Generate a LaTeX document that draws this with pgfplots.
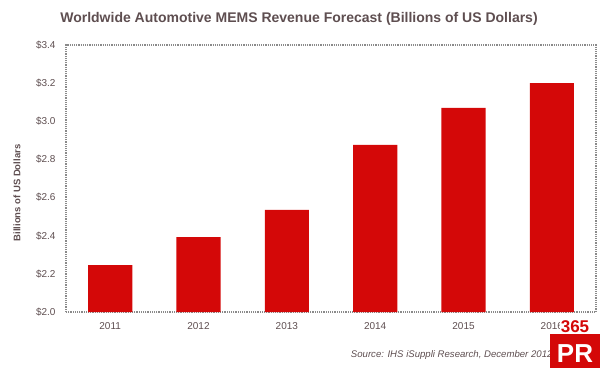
\documentclass[border=0pt]{standalone}
\usepackage{pgfplots}
\pgfplotsset{compat=1.18}
\usepackage{fontspec}
\setmainfont{Liberation Sans}
\definecolor{barred}{HTML}{D40808}
\definecolor{txt}{HTML}{5E4E50}
\definecolor{frame}{HTML}{8A8A8A}
\begin{document}
\begin{tikzpicture}[x=1pt,y=1pt]
\useasboundingbox (0,0) rectangle (600,368);
\begin{axis}[
  at={(66pt,56pt)}, anchor=south west,
  scale only axis, width=530pt, height=267pt,
  xmin=-0.5, xmax=5.5, ymin=2.0, ymax=3.4,
  ytick={2.0,2.2,2.4,2.6,2.8,3.0,3.2,3.4},
  yticklabel={\$\pgfmathprintnumber[fixed,fixed zerofill,precision=1]{\tick}},
  /pgf/number format/assume math mode=true,
  xtick={0,1,2,3,4,5},
  xticklabels={2011,2012,2013,2014,2015,2016},
  tick style={draw=none},
  axis line style={draw=frame, densely dotted, line width=1.2pt},
  tick label style={font=\fontsize{10}{12}\selectfont, text=txt},
  yticklabel style={xshift=-7pt},
  xticklabel style={yshift=-3pt},
  ybar, bar width=0.5,
]
\addplot[fill=barred, draw=none] coordinates {(0,2.246) (1,2.393) (2,2.535) (3,2.876) (4,3.07) (5,3.20)};
\end{axis}
\node[font=\fontsize{14}{16}\selectfont\bfseries, text=txt, anchor=center] at (299,349) {Worldwide Automotive MEMS Revenue Forecast (Billions of US Dollars)};
\node[font=\fontsize{9.5}{11}\selectfont\bfseries, text=txt, rotate=90] at (17,175) {Billions of US Dollars};
\node[font=\fontsize{9.6}{12}\selectfont\itshape, text=txt, anchor=east] at (556,13) {Source: IHS iSuppli Research, December 2012};
% 365PR logo
\fill[barred] (550,0) rectangle (600,34);
\node[font=\fontsize{17}{18}\selectfont\bfseries, text=barred, fill=white, inner sep=1pt, anchor=base] at (575,36) {365};
\node[font=\fontsize{26}{26}\selectfont\bfseries, text=white, inner sep=0pt, anchor=base] at (575,6) {PR};
\end{tikzpicture}
\end{document}
